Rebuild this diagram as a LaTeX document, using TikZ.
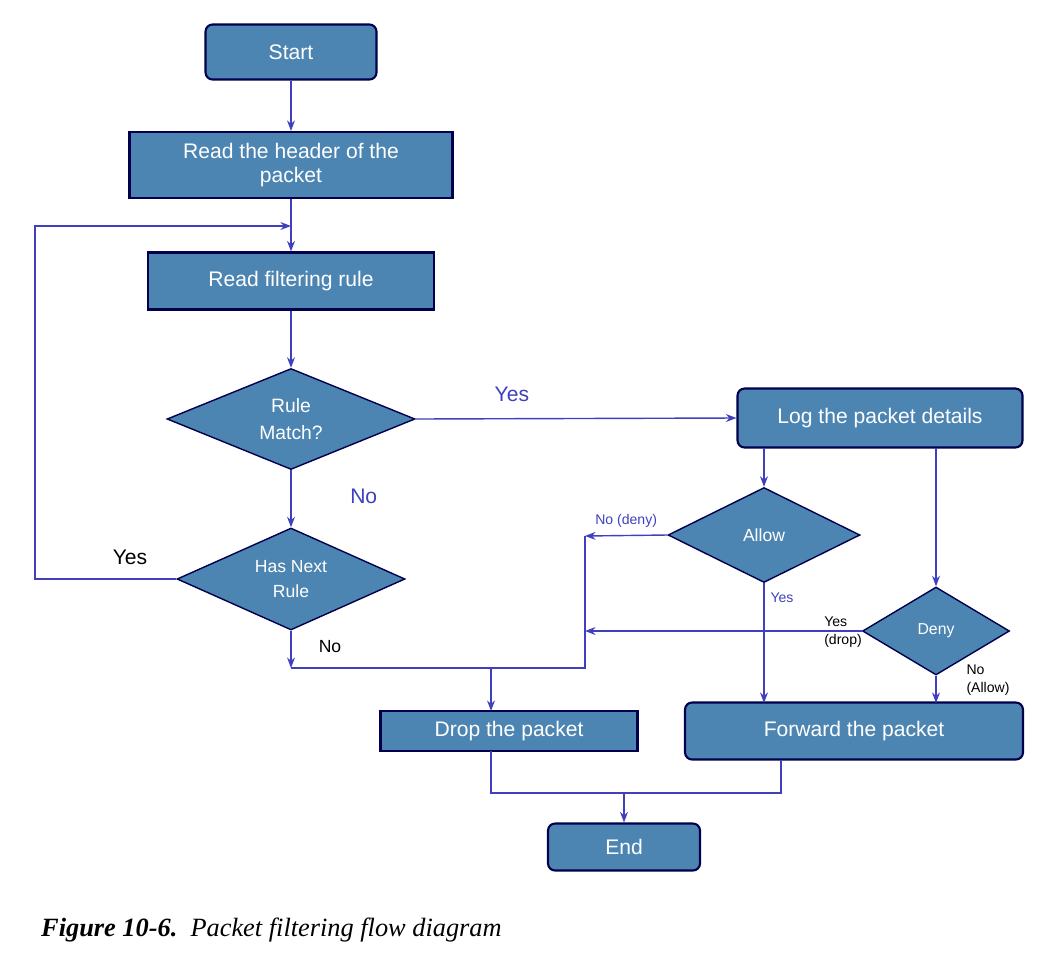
\documentclass[tikz,border=0pt]{standalone}
\usepackage{fontspec}
\setmainfont{Liberation Sans}
\newfontfamily\capfont{Liberation Serif}
\usetikzlibrary{shapes.geometric,arrows.meta,positioning,calc}

\begin{document}
\begin{tikzpicture}[
    x=0.02cm, y=-0.02cm,
    box/.style={rectangle, draw=blue!30!black, fill=blue!45!cyan!40!gray, very thick, text=white, font=\fontsize{12}{14}\selectfont, align=center, inner sep=0pt},
    rbox/.style={box, rounded corners=4pt},
    decision/.style={diamond, draw=blue!30!black, fill=blue!45!cyan!40!gray, thick, text=white, font=\fontsize{11}{15}\selectfont, align=center, inner sep=0pt, aspect=2.4},
    arrow/.style={-{Stealth[length=6pt]}, thick, blue!50!gray},
    line/.style={thick, blue!50!gray},
    lbl/.style={font=\fontsize{12}{14}\selectfont},
    small/.style={font=\fontsize{8}{10}\selectfont, align=left}
]
    \useasboundingbox (0,0) rectangle (1054,964);
    \colorlet{blue!45!cyan!40!gray}{blue!45!cyan!40!gray}

    \node[rbox, minimum width=3.42cm, minimum height=1.1cm] (start) at (291,52) {Start};
    \node[box, minimum width=6.46cm, minimum height=1.32cm] (header) at (291,165) {Read the header of the\\packet};
    \node[box, minimum width=5.72cm, minimum height=1.14cm] (rule) at (291,281) {Read filtering rule};
    \node[decision, minimum width=4.96cm, minimum height=2.02cm] (match) at (291,419) {Rule\\Match?};
    \node[decision, minimum width=4.56cm, minimum height=2.04cm, font=\fontsize{10}{14}\selectfont] (next) at (291,579) {Has Next\\Rule};
    \node[rbox, minimum width=5.7cm, minimum height=1.18cm] (log) at (880,418) {Log the packet details};
    \node[decision, minimum width=3.84cm, minimum height=1.9cm, font=\fontsize{10}{12}\selectfont] (allow) at (764,535) {Allow};
    \node[decision, minimum width=2.94cm, minimum height=1.76cm, font=\fontsize{9}{11}\selectfont] (deny) at (936,631) {Deny};
    \node[box, minimum width=5.14cm, minimum height=0.8cm] (drop) at (509,731) {Drop the packet};
    \node[rbox, minimum width=6.76cm, minimum height=1.14cm] (fwd) at (854,731) {Forward the packet};
    \node[rbox, minimum width=3.04cm, minimum height=0.94cm] (end) at (624,847) {End};

    \coordinate (loop) at (291,226);
    \coordinate (merge) at (291,668);
    \coordinate (bus) at (585,668);
    \coordinate (jn) at (624,793);

    \draw[arrow] (start) -- (header);
    \draw[arrow] (header) -- (rule);
    \draw[arrow] (rule) -- (match);
    \draw[arrow] (match) -- node[lbl, pos=0.45, right=30pt] {No} (next);
    \draw[arrow] (next.west) -- (35,579) -- (35,226) -- (loop);
    \node[lbl] at (130,557) {Yes};
    \draw[arrow] (match.east) -- node[lbl, pos=0.3, above=6pt] {Yes} (log.west);
    \draw[arrow] (next.south) -- (merge);
    \node[lbl, font=\fontsize{10}{12}\selectfont] at (330,647) {No};
    \draw[line] (merge) -- (bus) -- (585,536);
    \draw[arrow] (allow.west) -- node[small, above=1pt, pos=0.5] {No (deny)} (585,536);
    \draw[arrow] (deny.west) -- (585,631);
    \node[small] at (843,632) {Yes\\(drop)};
    \draw[arrow] (491,668) -- (491,711);
    \draw[arrow] (764,448) -- (allow.north);
    \draw[arrow] (936,448) -- (deny.north);
    \draw[arrow] (allow.south) -- node[small, right, pos=0.12] {Yes} (764,703);
    \draw[arrow] (deny.south) -- (936,703);
    \node[small] at (988,680) {No\\(Allow)};
    \draw[line] (491,751) -- (491,793) -- (781,793) -- (781,760);
    \draw[arrow] (jn) -- (end);

    \node[anchor=west, font=\capfont\fontsize{15}{17}\selectfont] (cap) at (35,930) {\textbf{\textit{Figure 10-6.}}\enspace\textit{Packet filtering flow diagram}};
\end{tikzpicture}
\end{document}
